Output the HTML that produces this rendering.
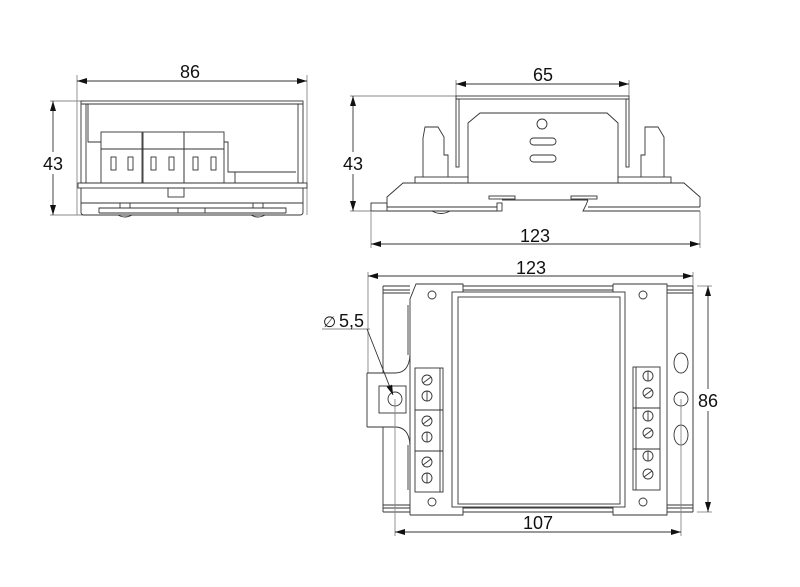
<!DOCTYPE html>
<html><head><meta charset="utf-8"><style>
html,body{margin:0;padding:0;background:#fff;width:800px;height:587px;overflow:hidden}
svg{display:block}
text{font-family:"Liberation Sans",sans-serif;font-size:18px;fill:#111}
</style></head><body>
<svg width="800" height="587" viewBox="0 0 800 587" xmlns="http://www.w3.org/2000/svg">
<defs>
<marker id="a" markerWidth="10" markerHeight="6" refX="10" refY="3" orient="auto-start-reverse" markerUnits="userSpaceOnUse">
<path d="M0,0 L10,3 L0,6 z" fill="#111"/></marker>
</defs>
<g stroke="#333" stroke-width="0.9" fill="none">
<!-- VIEW 1 -->
<line x1="77" y1="75" x2="77" y2="215" stroke="#888"/>
<line x1="307" y1="75" x2="307" y2="215" stroke="#888"/>
<line x1="77" y1="81" x2="307" y2="81" marker-start="url(#a)" marker-end="url(#a)"/>
<line x1="50" y1="101" x2="84" y2="101" stroke="#888"/>
<line x1="50" y1="215" x2="84" y2="215" stroke="#888"/>
<line x1="53" y1="101" x2="53" y2="215" marker-start="url(#a)" marker-end="url(#a)"/>
<rect x="81" y="101" width="222" height="82"/>
<line x1="81" y1="104" x2="303" y2="104"/>
<line x1="86" y1="104" x2="86" y2="183"/>
<line x1="298" y1="104" x2="298" y2="183"/>
<polyline points="88,104 88,142 101,142"/>
<rect x="101" y="132" width="41" height="51"/>
<rect x="143" y="132" width="41" height="51"/>
<rect x="184" y="132" width="40" height="51"/>
<line x1="101" y1="149" x2="224" y2="149"/>
<polyline points="224,142 228,142 228,172 296,172"/>
<line x1="235" y1="172" x2="235" y2="183"/>
<rect x="111" y="157" width="5" height="13"/><rect x="128" y="157" width="5" height="13"/>
<rect x="151" y="157" width="5" height="13"/><rect x="169" y="157" width="5" height="13"/>
<rect x="193" y="157" width="5" height="13"/><rect x="211" y="157" width="5" height="13"/>
<rect x="78" y="183" width="229" height="5"/>
<path d="M81,188 V212 Q81,215 84,215 H300 Q303,215 303,212 V188"/>
<rect x="168" y="188" width="16" height="9"/>
<line x1="81" y1="203" x2="303" y2="203"/>
<polyline points="99,213 99,208 178,208 178,213"/>
<polyline points="178,208 205,208 205,213"/>
<polyline points="205,208 286,208 286,213"/>
<line x1="99" y1="213" x2="286" y2="213"/>
<rect x="120" y="203" width="10" height="5"/><rect x="253" y="203" width="10" height="5"/>
<path d="M118,215 Q125,219 132,215"/><path d="M251,215 Q258,219 265,215"/>
<!-- VIEW 2 -->
<line x1="456" y1="80" x2="456" y2="96" stroke="#888"/>
<line x1="629" y1="80" x2="629" y2="96" stroke="#888"/>
<line x1="456" y1="84" x2="629" y2="84" marker-start="url(#a)" marker-end="url(#a)"/>
<line x1="350" y1="96" x2="456" y2="96" stroke="#888"/>
<line x1="350" y1="211" x2="371" y2="211" stroke="#888"/>
<line x1="353" y1="96" x2="353" y2="211" marker-start="url(#a)" marker-end="url(#a)"/>
<rect x="456" y="96" width="173" height="3"/>
<rect x="456" y="99" width="3" height="68"/>
<rect x="626" y="99" width="3" height="68"/>
<polyline points="468,178 468,123 480,113 607,113 618,123 618,178"/>
<circle cx="542" cy="124" r="5"/>
<rect x="530" y="138" width="26" height="7" rx="3.5"/>
<rect x="530" y="155" width="26" height="7" rx="3.5"/>
<polyline points="423,177 423,138 425,127 438,127 444,137 444,155 448,155 448,177"/>
<polyline points="641,177 641,155 645,155 645,127 658,127 664,137 664,177"/>
<rect x="415" y="177" width="53" height="6"/>
<rect x="618" y="177" width="53" height="6"/>
<polyline points="387,207 387,197 403,183 684,183 700,197 700,207"/>
<line x1="387" y1="207" x2="497" y2="207"/>
<line x1="387" y1="211" x2="497" y2="211"/>
<rect x="497" y="203" width="5" height="8"/>
<line x1="502" y1="200" x2="588" y2="200"/>
<polyline points="588,200 586,205 583,211 700,211"/>
<line x1="588" y1="207" x2="700" y2="207"/>
<rect x="371" y="203" width="16" height="8"/>
<rect x="489" y="196" width="26" height="3"/>
<rect x="571" y="196" width="26" height="3"/>
<path d="M432,211 Q441,216 450,211"/>
<line x1="371" y1="211" x2="371" y2="248" stroke="#888"/>
<line x1="700" y1="211" x2="700" y2="248" stroke="#888"/>
<line x1="371" y1="244" x2="700" y2="244" marker-start="url(#a)" marker-end="url(#a)"/>
<!-- VIEW 3 -->
<line x1="368" y1="272" x2="368" y2="373" stroke="#888"/>
<line x1="693" y1="272" x2="693" y2="512" stroke="#888"/>
<line x1="368" y1="276" x2="693" y2="276" marker-start="url(#a)" marker-end="url(#a)"/>
<line x1="383" y1="286" x2="410" y2="286"/><line x1="383" y1="290" x2="410" y2="290"/><line x1="383" y1="293" x2="410" y2="293"/>
<line x1="383" y1="512" x2="410" y2="512"/><line x1="383" y1="508" x2="410" y2="508"/><line x1="383" y1="505" x2="410" y2="505"/>
<line x1="667" y1="286" x2="693" y2="286"/><line x1="667" y1="290" x2="693" y2="290"/><line x1="667" y1="293" x2="693" y2="293"/>
<line x1="667" y1="512" x2="693" y2="512"/><line x1="667" y1="508" x2="693" y2="508"/><line x1="667" y1="505" x2="693" y2="505"/>
<line x1="383" y1="286" x2="383" y2="373"/>
<line x1="383" y1="427" x2="383" y2="512"/>
<line x1="693" y1="286" x2="693" y2="512"/>
<line x1="463" y1="286" x2="613" y2="286"/><line x1="463" y1="290" x2="613" y2="290"/>
<line x1="463" y1="512" x2="613" y2="512"/><line x1="463" y1="508" x2="613" y2="508"/>
<path d="M367,373 H395 Q409,373 410,355"/>
<path d="M367,427 H395 Q409,427 410,445"/>
<line x1="367" y1="373" x2="367" y2="427"/>
<line x1="408" y1="305" x2="408" y2="355"/><line x1="408" y1="445" x2="408" y2="490"/>
<rect x="379" y="386" width="27" height="27"/>
<circle cx="395" cy="399" r="7"/>
<polyline points="410,515 410,299 416,284 463,284 463,515 410,515"/>
<polyline points="613,284 667,284 667,515 613,515 613,284"/>
<rect x="452" y="292" width="173" height="215" fill="#fff"/>
<rect x="458" y="297" width="162" height="207"/>
<circle cx="432" cy="295" r="4"/><circle cx="432" cy="502" r="4"/>
<circle cx="643" cy="295" r="4"/><circle cx="643" cy="502" r="4"/>
<rect x="415" y="368" width="28" height="124"/>
<line x1="440" y1="368" x2="440" y2="492"/>
<line x1="415" y1="410" x2="443" y2="410"/><line x1="415" y1="451" x2="443" y2="451"/>
<rect x="633" y="367" width="27" height="123"/>
<line x1="636" y1="367" x2="636" y2="490"/>
<line x1="633" y1="408" x2="660" y2="408"/><line x1="633" y1="449" x2="660" y2="449"/>
<g>
<circle cx="427" cy="380" r="5"/><line x1="423" y1="383" x2="431" y2="377"/>
<circle cx="427" cy="396" r="5"/><line x1="427" y1="391" x2="427" y2="401"/>
<circle cx="427" cy="421" r="5"/><line x1="423" y1="424" x2="431" y2="418"/>
<circle cx="427" cy="437" r="5"/><line x1="427" y1="432" x2="427" y2="442"/>
<circle cx="427" cy="462" r="5"/><line x1="423" y1="465" x2="431" y2="459"/>
<circle cx="427" cy="478" r="5"/><line x1="427" y1="473" x2="427" y2="483"/>
<circle cx="648" cy="376" r="5"/><line x1="648" y1="371" x2="648" y2="381"/>
<circle cx="648" cy="393" r="5"/><line x1="644" y1="396" x2="652" y2="390"/>
<circle cx="648" cy="416" r="5"/><line x1="648" y1="411" x2="648" y2="421"/>
<circle cx="648" cy="433" r="5"/><line x1="644" y1="436" x2="652" y2="430"/>
<circle cx="648" cy="456" r="5"/><line x1="648" y1="451" x2="648" y2="461"/>
<circle cx="648" cy="474" r="5"/><line x1="644" y1="477" x2="652" y2="471"/>
</g>
<ellipse cx="681" cy="363" rx="7" ry="10"/>
<circle cx="681" cy="399" r="7"/>
<ellipse cx="681" cy="435" rx="7" ry="10"/>
<line x1="697" y1="286" x2="712" y2="286" stroke="#888"/>
<line x1="697" y1="512" x2="712" y2="512" stroke="#888"/>
<line x1="708" y1="286" x2="708" y2="512" marker-start="url(#a)" marker-end="url(#a)"/>
<line x1="395" y1="399" x2="395" y2="536" stroke="#888"/>
<line x1="681" y1="399" x2="681" y2="536" stroke="#888"/>
<line x1="395" y1="532" x2="681" y2="532" marker-start="url(#a)" marker-end="url(#a)"/>
<line x1="322" y1="329" x2="370" y2="329" stroke="#888"/>
<line x1="367" y1="329" x2="393" y2="395" marker-end="url(#a)"/>
</g>
<g fill="#fff" stroke="none">
<rect x="40" y="152" width="26" height="22"/>
<rect x="340" y="152" width="26" height="22"/>
<rect x="696" y="389" width="26" height="22"/>
</g>
<text x="190" y="78" text-anchor="middle">86</text>
<text x="53" y="170" text-anchor="middle">43</text>
<text x="543" y="81" text-anchor="middle">65</text>
<text x="353" y="170" text-anchor="middle">43</text>
<text x="535" y="242" text-anchor="middle">123</text>
<text x="531" y="274" text-anchor="middle">123</text>
<text x="708" y="407" text-anchor="middle">86</text>
<text x="538" y="529" text-anchor="middle">107</text>
<text x="323" y="327" style="font-size:15px">∅</text>
<text x="339" y="327">5,5</text>
</svg>
</body></html>
